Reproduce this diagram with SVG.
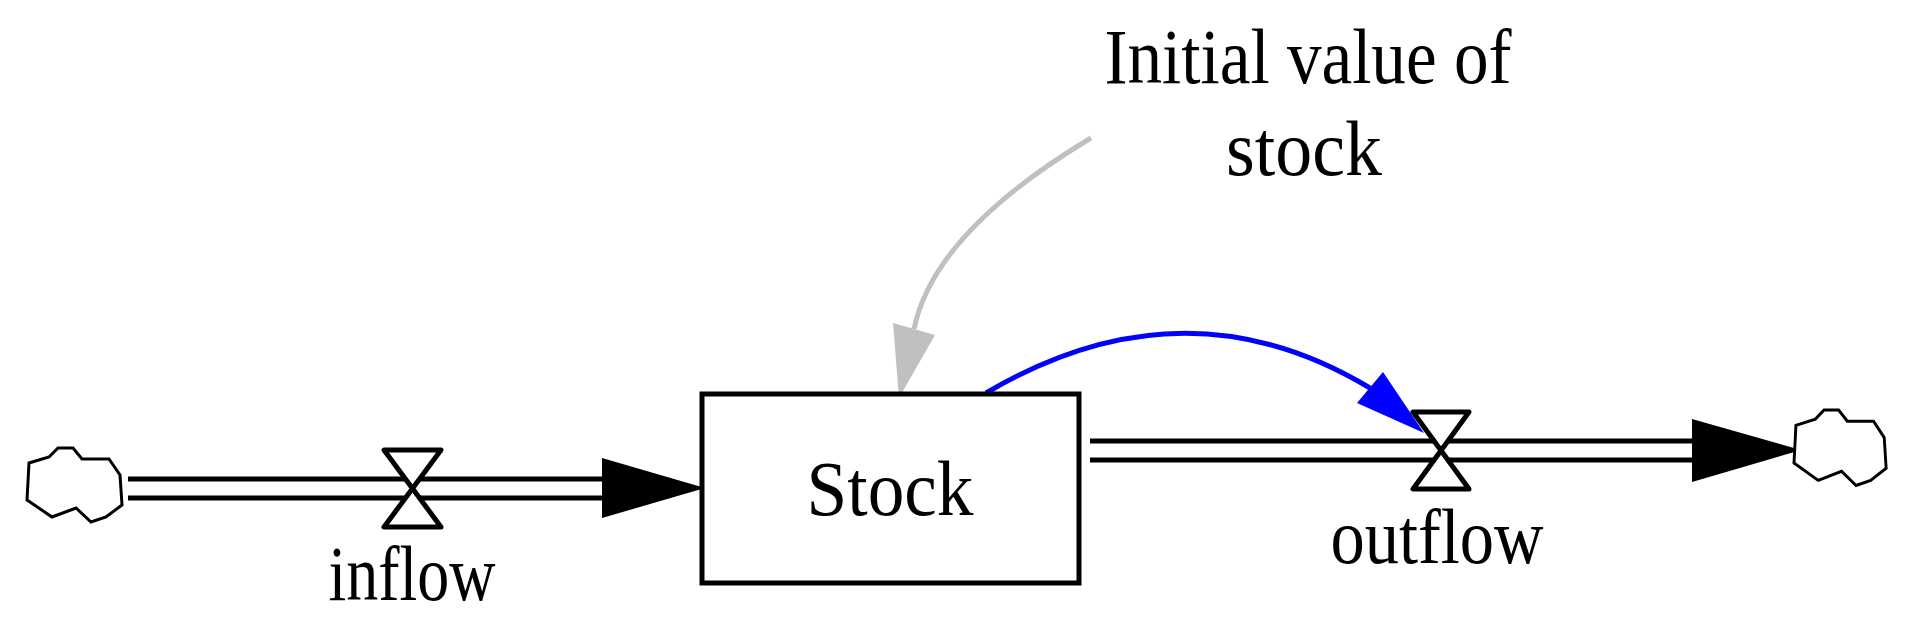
<svg xmlns="http://www.w3.org/2000/svg" width="1906" height="622" viewBox="0 0 1906 622">
<style>
text{font-family:"Liberation Serif","Times New Roman",serif;font-size:78px;fill:#000;text-anchor:middle}
.pipe{stroke:#000;stroke-width:5;fill:none}
.valve{stroke:#000;stroke-width:5;fill:#fff;stroke-linejoin:round}
.cloud{stroke:#000;stroke-width:3;fill:#fff}
</style>
<defs>
<path id="cloudShape" d="M22,10 L31,1 L46,1 L55,12 L82,12 L93,28 L95,58 L79,70 L64,75 L49,61 L25,70 L0,53 L2,16 Z"/>
</defs>
<g id="connectors">
<line class="pipe" x1="128" y1="479" x2="605" y2="479"/>
<line class="pipe" x1="128" y1="498" x2="605" y2="498"/>
<polygon points="602,458 602,518 705,488" fill="#000"/>
<line class="pipe" x1="1090" y1="441" x2="1695" y2="441"/>
<line class="pipe" x1="1090" y1="460" x2="1695" y2="460"/>
<polygon points="1692,419 1692,482 1801,450" fill="#000"/>
<path d="M1091,138 Q934,232 914,329" stroke="#c0c0c0" stroke-width="5" fill="none"/>
<polygon points="893,323 935,335 899,398" fill="#c0c0c0"/>
<path d="M986,393 Q1184,276 1370,388" stroke="#0000ff" stroke-width="5" fill="none"/>
<polygon points="1383,372 1357,403 1424,433" fill="#0000ff"/>
</g>
<g id="source-cloud"><use href="#cloudShape" class="cloud" transform="translate(27,447)"/></g>
<g id="sink-cloud"><use href="#cloudShape" class="cloud" transform="translate(1794,409) scale(0.97,1.02)"/></g>
<g id="stock">
<rect x="702" y="394" width="377" height="189" fill="#fff" stroke="#000" stroke-width="5"/>
<text x="890" y="515" textLength="167" lengthAdjust="spacingAndGlyphs">Stock</text>
</g>
<g id="inflow">
<path class="valve" d="M384,450 L441,450 L384,527 L441,527 Z"/>
<text x="412" y="600" textLength="167" lengthAdjust="spacingAndGlyphs">inflow</text>
</g>
<g id="outflow">
<path class="valve" d="M1413,412 L1469,412 L1413,489 L1469,489 Z"/>
<text x="1437" y="563" textLength="213" lengthAdjust="spacingAndGlyphs">outflow</text>
</g>
<g id="initial-value">
<text x="1308" y="83" textLength="407" lengthAdjust="spacingAndGlyphs">Initial value of</text>
<text x="1304" y="175" textLength="156" lengthAdjust="spacingAndGlyphs">stock</text>
</g>
</svg>
